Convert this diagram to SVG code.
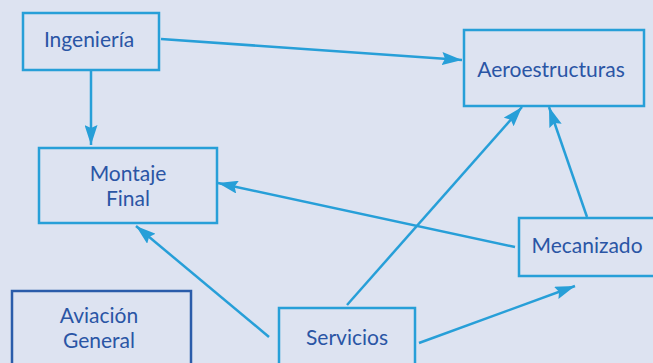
<svg xmlns="http://www.w3.org/2000/svg" width="653" height="363" viewBox="0 0 653 363">
<defs>
<marker id="ah" viewBox="0 0 20 13" refX="20" refY="6.5" markerWidth="20" markerHeight="13" markerUnits="userSpaceOnUse" orient="auto">
<path d="M0,0 L20,6.5 L0,13 L3,6.5 Z" fill="#279fd8"/>
</marker>
<style>
.box{fill:none;stroke:#279fd8;stroke-width:2.5}
.box2{fill:none;stroke:#2a5caa;stroke-width:2.5}
.t{font-family:Lato,"Liberation Sans",sans-serif;font-size:21px;fill:#2a55a5;text-anchor:middle}
.c{fill:none;stroke:#279fd8;stroke-width:2.5;marker-end:url(#ah)}
</style>
</defs>
<rect width="653" height="363" fill="#dde3f1"/>
<g id="connectors">
<line class="c" x1="91" y1="70" x2="91" y2="145"/>
<line class="c" x1="161" y1="39" x2="462" y2="60"/>
<line class="c" x1="269" y1="337" x2="136" y2="226"/>
<line class="c" x1="347" y1="305" x2="522" y2="107"/>
<line class="c" x1="587" y1="217" x2="549" y2="107"/>
<line class="c" x1="515" y1="247" x2="218" y2="183"/>
<line class="c" x1="419" y1="343" x2="575" y2="286"/>
</g>
<g id="ingenieria">
<rect class="box" x="23" y="13" width="136" height="57"/>
<text class="t" x="89" y="47">Ingeniería</text>
</g>
<g id="aeroestructuras">
<rect class="box" x="464" y="30" width="180" height="76"/>
<text class="t" x="551" y="77">Aeroestructuras</text>
</g>
<g id="montaje">
<rect class="box" x="39" y="148" width="178" height="75"/>
<text class="t" x="128" y="181">Montaje</text>
<text class="t" x="128" y="206">Final</text>
</g>
<g id="mecanizado">
<rect class="box" x="519" y="218" width="140" height="58"/>
<text class="t" x="587" y="253">Mecanizado</text>
</g>
<g id="aviacion">
<rect class="box2" x="12" y="291" width="179" height="90"/>
<text class="t" x="99" y="323">Aviación</text>
<text class="t" x="99" y="348">General</text>
</g>
<g id="servicios">
<rect class="box" x="279" y="308" width="136" height="70"/>
<text class="t" x="347" y="345">Servicios</text>
</g>
</svg>
